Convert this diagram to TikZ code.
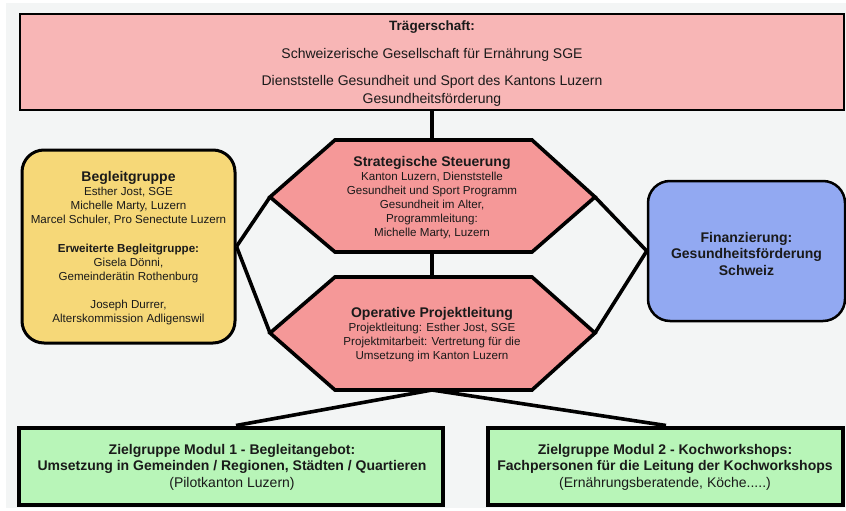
\documentclass[tikz,border=0pt]{standalone}
\usepackage{fontspec}
\setmainfont{Liberation Sans}
\definecolor{bggray}{HTML}{F3F5F5}
\definecolor{toppink}{HTML}{F8B6B6}
\definecolor{hexred}{HTML}{F59898}
\definecolor{yellowbox}{HTML}{F6D878}
\definecolor{bluebox}{HTML}{92A9F2}
\definecolor{greenbox}{HTML}{B8F5B8}
\definecolor{txt}{HTML}{1A1A1A}
\tikzset{
  x=1pt, y=-1pt,
  conn/.style={line width=3.6pt, black},
  hexshape/.style={fill=hexred, draw=black, line width=3.6pt, line join=miter},
  txtnode/.style={align=center, text=txt, inner sep=0pt},
  body/.style={font=\fontsize{11.6}{14}\selectfont},
}
\begin{document}
\begin{tikzpicture}
\useasboundingbox (0,0) rectangle (846,511);
\fill[white] (0,0) rectangle (846,511);
\fill[bggray] (6,3) rectangle (846,508);

% hexagon coordinates
\coordinate (h1tl) at (335,140); \coordinate (h1tr) at (532,140);
\coordinate (h1r) at (595,197); \coordinate (h1br) at (532,252);
\coordinate (h1bl) at (335,252); \coordinate (h1l) at (270,197);
\coordinate (h1t) at (432,140); \coordinate (h1b) at (432,252);
\coordinate (h2tl) at (335,277); \coordinate (h2tr) at (532,277);
\coordinate (h2r) at (595,333); \coordinate (h2br) at (532,390);
\coordinate (h2bl) at (335,390); \coordinate (h2l) at (270,333);
\coordinate (h2t) at (432,277); \coordinate (h2b) at (432,390);

% top box
\node[draw=black, line width=2pt, fill=toppink, minimum width=824pt, minimum height=96pt, inner sep=0pt] (traeger) at (432,62) {};
\node[txtnode, font=\fontsize{14}{18}\selectfont] (traegertxt) at (432,63.5)
  {{\fontsize{13.5}{18}\selectfont\textbf{Trägerschaft:}}\\[10pt]
   Schweizerische Gesellschaft für Ernährung SGE\\[9pt]
   Dienststelle Gesundheit und Sport des Kantons Luzern\\
   Gesundheitsförderung};

% side boxes
\node[draw=black, line width=3pt, fill=yellowbox, rounded corners=22pt, minimum width=213pt, minimum height=193pt, inner sep=0pt] (begl) at (128.5,246.5) {};
\node[draw=black, line width=2.5pt, fill=bluebox, rounded corners=22pt, minimum width=197pt, minimum height=140pt, inner sep=0pt] (finanz) at (746.5,251) {};

% bottom boxes
\node[draw=black, line width=4pt, fill=greenbox, minimum width=424pt, minimum height=77pt, inner sep=0pt] (modul1) at (231,466) {};
\node[draw=black, line width=4pt, fill=greenbox, minimum width=355pt, minimum height=77pt, inner sep=0pt] (modul2) at (665,466) {};

% connectors
\draw[conn] (traeger.south) -- (h1t);
\draw[conn] (h1b) -- (h2t);
\draw[conn] (begl.east) -- (h1l);
\draw[conn] (begl.east) -- (h2l);
\draw[conn] (finanz.west) -- (h1r);
\draw[conn] (finanz.west) -- (h2r);
\draw[conn] (h2b) -- (modul1.north -| 236,0);
\draw[conn] (h2b) -- (modul2.north -| 666,0);

% hexagons
\draw[hexshape] (h1tl) -- (h1tr) -- (h1r) -- (h1br) -- (h1bl) -- (h1l) -- cycle;
\draw[hexshape] (h2tl) -- (h2tr) -- (h2r) -- (h2br) -- (h2bl) -- (h2l) -- cycle;

% texts
\node[txtnode, body] (strattxt) at (432,198)
  {{\fontsize{14}{16}\selectfont\textbf{Strategische Steuerung}}\\
   Kanton Luzern, Dienststelle\\
   Gesundheit und Sport Programm\\
   Gesundheit im Alter,\\
   Programmleitung:\\
   Michelle Marty, Luzern};
\node[txtnode, body] (opertxt) at (432,334.5)
  {{\fontsize{14}{16}\selectfont\textbf{Operative Projektleitung}}\\
   Projektleitung: Esther Jost, SGE\\
   Projektmitarbeit: Vertretung für die\\
   Umsetzung im Kanton Luzern};
\node[txtnode, body] (begltxt) at (128.5,248)
  {{\fontsize{14}{16}\selectfont\textbf{Begleitgruppe}}\\
   Esther Jost, SGE\\
   Michelle Marty, Luzern\\
   Marcel Schuler, Pro Senectute Luzern\\[15pt]
   \textbf{Erweiterte Begleitgruppe:}\\
   Gisela Dönni,\\
   Gemeinderätin Rothenburg\\[14pt]
   Joseph Durrer,\\
   Alterskommission Adligenswil};
\node[txtnode, font=\fontsize{14}{16.5}\selectfont\bfseries] (finanztxt) at (746.5,253.5)
  {Finanzierung:\\
   Gesundheitsförderung\\
   Schweiz};
\node[txtnode, font=\fontsize{14}{16.5}\selectfont] (modul1txt) at (232,467)
  {\textbf{Zielgruppe Modul 1 - Begleitangebot:}\\
   \textbf{Umsetzung in Gemeinden / Regionen, Städten / Quartieren}\\
   (Pilotkanton Luzern)};
\node[txtnode, font=\fontsize{14}{16.5}\selectfont] (modul2txt) at (665,467)
  {\textbf{Zielgruppe Modul 2 - Kochworkshops:}\\
   \textbf{Fachpersonen für die Leitung der Kochworkshops}\\
   (Ernährungsberatende, Köche.....)};
\end{tikzpicture}
\end{document}
